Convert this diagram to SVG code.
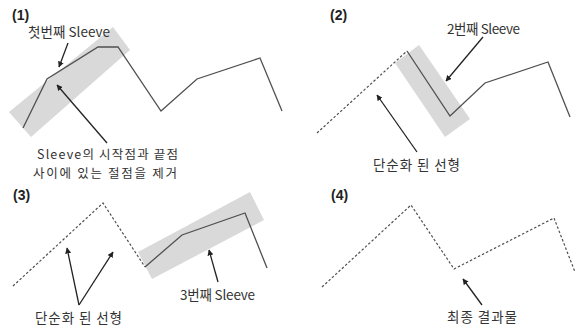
<svg xmlns="http://www.w3.org/2000/svg" width="585" height="327" viewBox="0 0 585 327">
<defs>
<marker id="ah" viewBox="0 0 10 10" refX="9" refY="5" markerWidth="6" markerHeight="6" orient="auto" markerUnits="userSpaceOnUse">
<path d="M0,0 L10,5 L0,10 z" fill="#222"/>
</marker>
</defs>
<style>
.band{fill:#d9d9d9;stroke:none}
.solid{fill:none;stroke:#505050;stroke-width:1.3;stroke-linejoin:miter}
.dash{fill:none;stroke:#505050;stroke-width:1.2;stroke-dasharray:2.5 2}
.arr{fill:none;stroke:#222;stroke-width:1.3;marker-end:url(#ah)}
.lbl{font-family:"Noto Sans CJK KR","Malgun Gothic",sans-serif;font-size:13.5px;fill:#333}
.sm{font-size:12.5px}
.num{font-family:"Liberation Sans",Arial,sans-serif;font-size:14px;font-weight:bold;fill:#222}
</style>
<rect width="585" height="327" fill="#fff"/>

<g id="panel1">
<polygon class="band" points="9,112 31,137 130,50 113,27"/>
<polyline class="solid" points="23,128 47,79 98,47 118,47 161,111 197,79 260,58 282,111"/>
<text class="num" x="12" y="20">(1)</text>
<text class="lbl" x="28" y="37" textLength="82" lengthAdjust="spacing">첫번째 Sleeve</text>
<text class="lbl sm" x="37" y="159" textLength="141" lengthAdjust="spacing">Sleeve의 시작점과 끝점</text>
<text class="lbl sm" x="33" y="177.5" textLength="144" lengthAdjust="spacing">사이에 있는 절점을 제거</text>
</g>

<g id="panel2">
<polygon class="band" points="395,63 419,45 470,119 445,137"/>
<polyline class="dash" points="317,133 407,51"/>
<polyline class="solid" points="407,51 450,116 485,83 548,62 570,117"/>
<text class="num" x="330" y="20">(2)</text>
<text class="lbl" x="447" y="34" textLength="73" lengthAdjust="spacing">2번째 Sleeve</text>
<text class="lbl" x="373" y="170" textLength="87" lengthAdjust="spacing">단순화 된 선형</text>
</g>

<g id="panel3">
<polygon class="band" points="138,252 152,279 264,220 250,192"/>
<polyline class="dash" points="13,286 103,203 145,267"/>
<polyline class="solid" points="145,267 182,235 245,213 267,268"/>
<text class="num" x="13" y="200">(3)</text>
<text class="lbl" x="180" y="300" textLength="75" lengthAdjust="spacing">3번째 Sleeve</text>
<text class="lbl" x="35" y="323" textLength="87" lengthAdjust="spacing">단순화 된 선형</text>
</g>

<g id="panel4">
<polyline class="dash" points="322,287 411,205 454,269 554,218 575,272"/>
<text class="num" x="331" y="200">(4)</text>
<text class="lbl" x="447" y="322" textLength="70" lengthAdjust="spacing">최종 결과물</text>
</g>

<g id="connectors">
<line class="arr" x1="68" y1="43" x2="59" y2="67"/>
<line class="arr" x1="107" y1="143" x2="57" y2="85"/>
<line class="arr" x1="483" y1="37" x2="446" y2="81"/>
<line class="arr" x1="417" y1="152" x2="377" y2="95"/>
<line class="arr" x1="79" y1="305" x2="67" y2="248"/>
<line class="arr" x1="79" y1="305" x2="113" y2="252"/>
<line class="arr" x1="218" y1="282" x2="209" y2="250"/>
<line class="arr" x1="482" y1="305" x2="463" y2="279"/>
</g>
</svg>
